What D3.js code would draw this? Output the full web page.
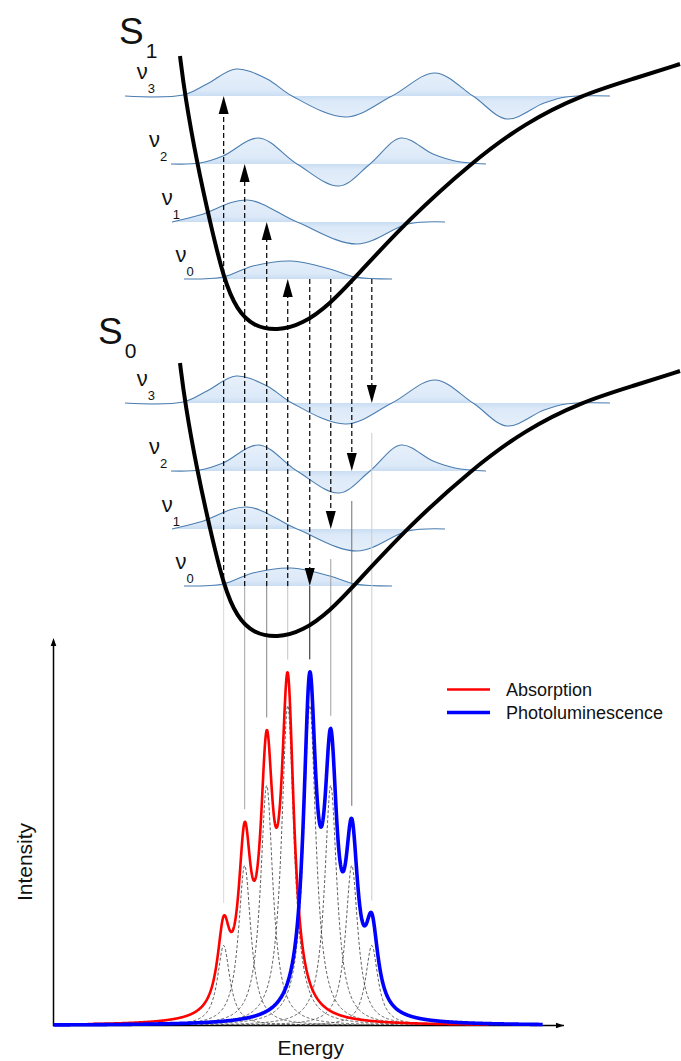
<!DOCTYPE html>
<html>
<head>
<meta charset="utf-8">
<script src="https://cdn.jsdelivr.net/npm/d3@7/dist/d3.min.js"></script>
<style>
body { margin: 0; background: #fff; }
text { font-family: "Liberation Sans", Arial, sans-serif; fill: #111; }
</style>
</head>
<body>
<svg id="chart" width="681" height="1061"></svg>
<script>
// ---- data ----
// top panel: nuclear coordinate Q vs energy E (arb. units), E = 0 at the S0 minimum
var stateNames = ['S0', 'S1'];
var stateOffsets = [0, 3.07];                 // energy of each well minimum
var levelEnergies = [0.50, 1.07, 1.65, 2.33]; // v0..v3 above the well minimum

// one potential well, same shape for both states
var wellQ = [0.80, 0.85, 0.97, 1.10, 1.24, 1.37, 1.53, 1.77, 2.03, 2.30, 2.55, 3.08, 3.72, 4.25, 4.81, 5.36, 5.80];
var wellE = [2.73, 2.33, 1.66, 1.07, 0.49, 0.19, 0.03, -0.02, 0.05, 0.25, 0.515, 1.09, 1.67, 2.06, 2.34, 2.51, 2.65];

// vibrational wavefunctions (Q, amplitude), v0..v3
var waveQ = [
    [0.84, 1.23, 1.53, 1.91, 2.30, 2.55, 2.92],
    [0.72, 1.00, 1.47, 1.97, 2.57, 3.08, 3.45],
    [0.71, 1.00, 1.23, 1.59, 1.97, 2.39, 2.70, 3.01, 3.33, 3.55, 3.86],
    [0.25, 0.83, 1.07, 1.36, 1.67, 1.92, 2.46, 2.92, 3.35, 3.73, 4.07, 4.44, 4.66, 5.10]
];
var waveAmp = [
    [0, 0.02, 0.13, 0.18, 0.10, 0.02, 0],
    [0, 0.07, 0.22, 0, -0.22, -0.02, 0],
    [0, 0.01, 0.08, 0.26, 0, -0.22, 0, 0.26, 0.10, 0.03, 0],
    [0, 0.01, 0.12, 0.27, 0.17, 0, -0.21, 0, 0.23, 0, -0.23, -0.07, -0.01, 0]
];

// spectrum: peak energies for 0-0, 0-1, 0-2, 0-3
var absPeaks = [2.34, 2.13, 1.91, 1.70];
var plPeaks = [2.56, 2.77, 2.98, 3.18];
var fcWeights = [1.0, 0.75, 0.5, 0.25];
var hwhm = 0.075;
var absRange = [0.34, 4.35];
var plRange = [0, 4.89];
var legendNames = ['Absorption', 'Photoluminescence'];

// ---- styles ----
var absGrey = ['#c4c4c4', '#858585', '#a3a3a3', '#dadada'];
var plGrey = ['#1e1e1e', '#a0a0a0', '#6e6e6e', '#cccccc'];
var waveStroke = '#4a7db0';

var svg = d3.select('#chart');

var xQ = d3.scaleLinear().domain([0, 5.8]).range([100, 680]);
var yE = d3.scaleLinear().domain([0, 6.36]).range([636, 0]);
var xS = d3.scaleLinear().domain([0, 5.1]).range([53.5, 564]);
var yI = d3.scaleLinear().domain([0, 1.2]).range([1025.5, 641.5]);

var smooth = d3.curveCatmullRom.alpha(0.5);

function lorentz(e, centre, height) {
    var u = (e - centre) / hwhm;
    return height / (1 + u * u);
}

function spectrum(e, peaks) {
    var total = 0;
    for (var i = 0; i < peaks.length; i++) {
        total += lorentz(e, peaks[i], fcWeights[i]);
    }
    return total;
}

// Q of the left (repulsive) wall at energy E
function leftTurn(E) {
    for (var i = 0; i < wellQ.length - 1 && wellE[i + 1] < wellE[i]; i++) {
        if (E <= wellE[i] && E >= wellE[i + 1]) {
            var t = (wellE[i] - E) / (wellE[i] - wellE[i + 1]);
            return wellQ[i] + t * (wellQ[i + 1] - wellQ[i]);
        }
    }
    return wellQ[0];
}

var levels = [];
stateOffsets.forEach(function(off, s) {
    levelEnergies.forEach(function(lv, n) {
        levels.push({state: s, n: n, E: off + lv});
    });
});

// gradient fill of each wavefunction, densest on its baseline
var defs = svg.append('defs');
var grads = defs.selectAll('linearGradient')
    .data(levels)
    .enter()
    .append('linearGradient')
    .attr('id', function(d) { return 'wf' + d.state + d.n; })
    .attr('gradientUnits', 'userSpaceOnUse')
    .attr('x1', 0).attr('x2', 0)
    .attr('y1', function(d) { return yE(d.E) - 28; })
    .attr('y2', function(d) { return yE(d.E) + 28; });
grads.selectAll('stop')
    .data([[0, '#e8f1fb'], [0.4, '#dce9f8'], [0.5, '#c9ddf3'], [0.6, '#dce9f8'], [1, '#e8f1fb']])
    .enter()
    .append('stop')
    .attr('offset', function(d) { return d[0]; })
    .attr('stop-color', function(d) { return d[1]; });

function wavePoints(n) {
    return waveQ[n].map(function(q, i) { return [q, waveAmp[n][i]]; });
}

var waves = svg.append('g').selectAll('g')
    .data(levels)
    .enter()
    .append('g');
waves.append('path')
    .attr('fill', function(d) { return 'url(#wf' + d.state + d.n + ')'; })
    .attr('d', function(d) {
        return d3.area().curve(smooth)
            .x(function(p) { return xQ(p[0]); })
            .y0(yE(d.E))
            .y1(function(p) { return yE(d.E + p[1]); })(wavePoints(d.n));
    });
waves.append('path')
    .attr('fill', 'none')
    .attr('stroke', waveStroke)
    .attr('stroke-width', 1.1)
    .attr('d', function(d) {
        return d3.line().curve(smooth)
            .x(function(p) { return xQ(p[0]); })
            .y(function(p) { return yE(d.E + p[1]); })(wavePoints(d.n));
    });

// level labels, left of the well wall
var nu = svg.append('g').selectAll('text')
    .data(levels)
    .enter()
    .append('text')
    .attr('x', function(d) { return xQ(leftTurn(levelEnergies[d.n])) - 30; })
    .attr('y', function(d) { return yE(d.E) - 17; })
    .attr('text-anchor', 'end')
    .style('font-size', '22px')
    .text('ν');
nu.append('tspan')
    .attr('dy', 14)
    .style('font-size', '13px')
    .text(function(d) { return d.n; });

// transitions
var transitions = [];
absPeaks.forEach(function(p, n) {
    transitions.push({kind: 'abs', n: n, e: p,
        from: stateOffsets[0] + levelEnergies[0], to: stateOffsets[1] + levelEnergies[n],
        low: stateOffsets[0] + levelEnergies[0], top: spectrum(p, absPeaks), grey: absGrey[n]});
});
plPeaks.forEach(function(p, n) {
    transitions.push({kind: 'pl', n: n, e: p,
        from: stateOffsets[1] + levelEnergies[0], to: stateOffsets[0] + levelEnergies[n],
        low: stateOffsets[0] + levelEnergies[n] - (n > 0 ? 0.3 : 0), top: spectrum(p, plPeaks), grey: plGrey[n]});
});

// thin connectors down to the spectrum
svg.append('g').selectAll('line')
    .data(transitions)
    .enter()
    .append('line')
    .attr('x1', function(d) { return xS(d.e); })
    .attr('x2', function(d) { return xS(d.e); })
    .attr('y1', function(d) { return yE(d.low); })
    .attr('y2', function(d) { return yI(d.top + 0.04); })
    .attr('stroke', function(d) { return d.grey; })
    .attr('stroke-width', 1);

// potential wells
var wellPts = wellQ.map(function(q, i) { return [q, wellE[i]]; });
svg.append('g').selectAll('path')
    .data(stateOffsets)
    .enter()
    .append('path')
    .attr('fill', 'none')
    .attr('stroke', '#000')
    .attr('stroke-width', 4)
    .attr('d', function(off) {
        return d3.line().curve(d3.curveBasis)
            .x(function(p) { return xQ(p[0]); })
            .y(function(p) { return yE(off + p[1]); })(wellPts);
    });

// dashed arrows
var arrows = svg.append('g').selectAll('g')
    .data(transitions)
    .enter()
    .append('g');
arrows.append('line')
    .attr('x1', function(d) { return xS(d.e); })
    .attr('x2', function(d) { return xS(d.e); })
    .attr('y1', function(d) { return yE(d.from); })
    .attr('y2', function(d) { return yE(d.to) + (d.kind == 'abs' ? 10 : -10); })
    .attr('stroke', '#000')
    .attr('stroke-width', 1.2)
    .attr('stroke-dasharray', '5,3');
arrows.append('path')
    .attr('fill', '#000')
    .attr('d', function(d) {
        var x = xS(d.e), tip = yE(d.to);
        var base = tip + (d.kind == 'abs' ? 18 : -18);
        return 'M' + x + ',' + tip + 'L' + (x - 5) + ',' + base + 'L' + (x + 5) + ',' + base + 'Z';
    });

// state labels
var stateLabelPos = [[98, 344], [119, 44]];
var sLab = svg.append('g').selectAll('text')
    .data(stateNames)
    .enter()
    .append('text')
    .attr('x', function(d, i) { return stateLabelPos[i][0]; })
    .attr('y', function(d, i) { return stateLabelPos[i][1]; })
    .style('font-size', '37px')
    .text('S');
sLab.append('tspan')
    .attr('dx', 2)
    .attr('dy', 14)
    .style('font-size', '21px')
    .text(function(d) { return d.slice(1); });

// ---- spectrum ----
var x0 = xS(0), yBase = yI(0);
svg.append('path')
    .attr('fill', 'none').attr('stroke', '#000').attr('stroke-width', 1.5)
    .attr('d', 'M' + x0 + ',' + (yI.range()[1]) + 'L' + x0 + ',' + yBase + 'L' + xS.range()[1] + ',' + yBase);
svg.append('path')
    .attr('fill', '#000')
    .attr('d', 'M' + x0 + ',' + (yI.range()[1] - 3.5) + 'l-2.8,8l5.6,0Z');
svg.append('path')
    .attr('fill', '#000')
    .attr('d', 'M' + xS.range()[1] + ',' + yBase + 'l-8,-2.8l0,5.6Z');

var specLine = d3.line()
    .x(function(d) { return xS(d[0]); })
    .y(function(d) { return yI(d[1]); });

// individual vibronic components
var comps = [];
absPeaks.forEach(function(p, i) { comps.push({c: p, h: fcWeights[i]}); });
plPeaks.forEach(function(p, i) { comps.push({c: p, h: fcWeights[i]}); });
svg.append('g').selectAll('path')
    .data(comps)
    .enter()
    .append('path')
    .attr('fill', 'none')
    .attr('stroke', '#333')
    .attr('stroke-width', 0.8)
    .attr('stroke-dasharray', '3,2')
    .attr('d', function(d) {
        return specLine(d3.range(d.c - 1.3, d.c + 1.3, 0.004).map(function(e) {
            return [e, lorentz(e, d.c, d.h)];
        }));
    });

var absData = d3.range(absRange[0], absRange[1], 0.003).map(function(e) { return [e, spectrum(e, absPeaks)]; });
var plData = d3.range(plRange[0], plRange[1], 0.003).map(function(e) { return [e, spectrum(e, plPeaks)]; });

svg.append('path')
    .attr('fill', 'none').attr('stroke', '#ff0000').attr('stroke-width', 2.6)
    .attr('stroke-linejoin', 'round')
    .attr('d', specLine(absData));
svg.append('path')
    .attr('fill', 'none').attr('stroke', '#0000ff').attr('stroke-width', 3.6)
    .attr('stroke-linejoin', 'round')
    .attr('d', specLine(plData));

// legend
var legend = svg.append('g').selectAll('g')
    .data(legendNames)
    .enter()
    .append('g')
    .attr('transform', function(d, i) { return 'translate(447,' + (689.5 + i * 23) + ')'; });
legend.append('line')
    .attr('x1', 0).attr('x2', 43)
    .attr('stroke', function(d, i) { return i == 0 ? '#ff0000' : '#0000ff'; })
    .attr('stroke-width', function(d, i) { return i == 0 ? 2.6 : 3.6; });
legend.append('text')
    .attr('x', 59).attr('y', 6.5)
    .style('font-size', '18px')
    .text(function(d) { return d; });

// axis titles
svg.append('text')
    .attr('x', (x0 + xS.range()[1]) / 2 + 2).attr('y', 1055)
    .attr('text-anchor', 'middle')
    .style('font-size', '21px')
    .text('Energy');
svg.append('text')
    .attr('transform', 'translate(32,862) rotate(-90)')
    .attr('text-anchor', 'middle')
    .style('font-size', '21px')
    .text('Intensity');
</script>
</body>
</html>
